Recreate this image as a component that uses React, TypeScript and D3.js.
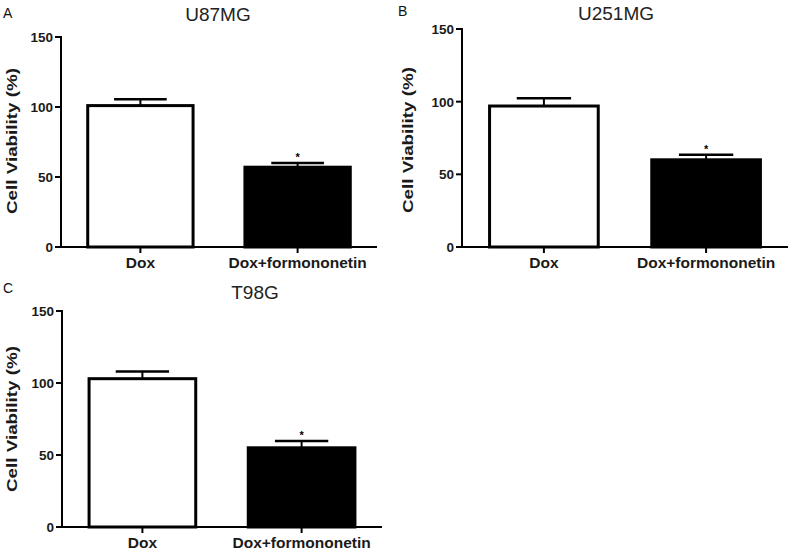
import React from "react";
import * as d3 from "d3";

const categories = ["Dox", "Dox+formononetin"];
const panelLetters = ["A", "B", "C"];
const cellLines = ["U87MG", "U251MG", "T98G"];
const u87Values = [101, 57];
const u87Errors = [4.5, 3];
const u251Values = [97, 60];
const u251Errors = [5.3, 3.4];
const t98Values = [103, 55];
const t98Errors = [5, 4.7];
const yTicks = [0, 50, 100, 150];
const significance = ["", "*"];
const yLabel = "Cell Viability (%)";

const seriesValues = [u87Values, u251Values, t98Values];
const seriesErrors = [u87Errors, u251Errors, t98Errors];

// layout per panel (positions only)
const layouts = [
  { x0: 61, x1: 377, yTop: 37, yBot: 247, labelX: 3, labelY: 18, titleX: 218, titleY: 21, yLabX: 12, yLabY: 141 },
  { x0: 462, x1: 788, yTop: 29, yBot: 247, labelX: 398, labelY: 16, titleX: 616, titleY: 20, yLabX: 408, yLabY: 140 },
  { x0: 62, x1: 382, yTop: 311, yBot: 527, labelX: 3, labelY: 293, titleX: 255, titleY: 299, yLabX: 12, yLabY: 419 },
];

const FONT = "'Liberation Sans', Arial, Helvetica, sans-serif";

function Panel({ idx }: { idx: number }) {
  const L = layouts[idx];
  const values = seriesValues[idx];
  const errors = seriesErrors[idx];
  const x = d3.scaleBand<string>().domain(categories).range([L.x0, L.x1]).paddingInner(0.33).paddingOuter(0.17);
  const y = d3.scaleLinear().domain([0, 150]).range([L.yBot, L.yTop]);
  const bw = x.bandwidth();
  return (
    <g>
      <text x={L.labelX} y={L.labelY} fontFamily={FONT} fontSize={14} fill="#111">{panelLetters[idx]}</text>
      <text x={L.titleX} y={L.titleY} fontFamily={FONT} fontSize={19} textAnchor="middle" fill="#222">{cellLines[idx]}</text>
      <text
        transform={`translate(${L.yLabX},${L.yLabY}) rotate(-90)`}
        dy="0.35em"
        fontFamily={FONT}
        fontWeight="bold"
        fontSize={15.5}
        textAnchor="middle"
        textLength={146}
        lengthAdjust="spacingAndGlyphs"
        fill="#1a1a1a"
      >{yLabel}</text>
      {/* bars */}
      {categories.map((c, i) => {
        const bx = x(c)!;
        const top = y(values[i]);
        const errTop = y(values[i] + errors[i]);
        const cx = bx + bw / 2;
        const capW = bw * 0.5;
        return (
          <g key={c}>
            <line x1={cx} x2={cx} y1={top} y2={errTop} stroke="#000" strokeWidth={2} />
            <line x1={cx - capW / 2} x2={cx + capW / 2} y1={errTop} y2={errTop} stroke="#000" strokeWidth={2.5} />
            <rect x={bx} y={top} width={bw} height={L.yBot - top} fill={i === 0 ? "#fff" : "#000"} stroke="#000" strokeWidth={3} />
            {significance[i] && (
              <text x={cx} y={errTop - 2} fontFamily={FONT} fontWeight="bold" fontSize={11} textAnchor="middle" fill="#000">{significance[i]}</text>
            )}
          </g>
        );
      })}
      {/* y axis */}
      <line x1={L.x0} x2={L.x0} y1={L.yTop - 1} y2={L.yBot + 1} stroke="#000" strokeWidth={2} />
      {yTicks.map((t) => (
        <g key={t}>
          <line x1={L.x0 - 6} x2={L.x0} y1={y(t)} y2={y(t)} stroke="#000" strokeWidth={2} />
          <text x={L.x0 - 8} y={y(t)} dy="0.36em" fontFamily={FONT} fontWeight="bold" fontSize={13.5} textAnchor="end" fill="#1a1a1a">{t}</text>
        </g>
      ))}
      {/* x axis */}
      <line x1={L.x0 - 6} x2={L.x1} y1={L.yBot} y2={L.yBot} stroke="#000" strokeWidth={2} />
      {categories.map((c) => {
        const cx = x(c)! + bw / 2;
        return (
          <g key={c}>
            <line x1={cx} x2={cx} y1={L.yBot} y2={L.yBot + 6} stroke="#000" strokeWidth={2} />
            <text x={cx} y={L.yBot + 21} fontFamily={FONT} fontWeight="bold" fontSize={15.5} textAnchor="middle" fill="#1a1a1a">{c}</text>
          </g>
        );
      })}
    </g>
  );
}

export default function App() {
  return (
    <svg width={792} height={554} style={{ position: "absolute", left: 0, top: 0, background: "#fff" }}>
      <rect x={0} y={0} width={792} height={554} fill="#fff" />
      {[0, 1, 2].map((i) => (
        <Panel key={i} idx={i} />
      ))}
    </svg>
  );
}
